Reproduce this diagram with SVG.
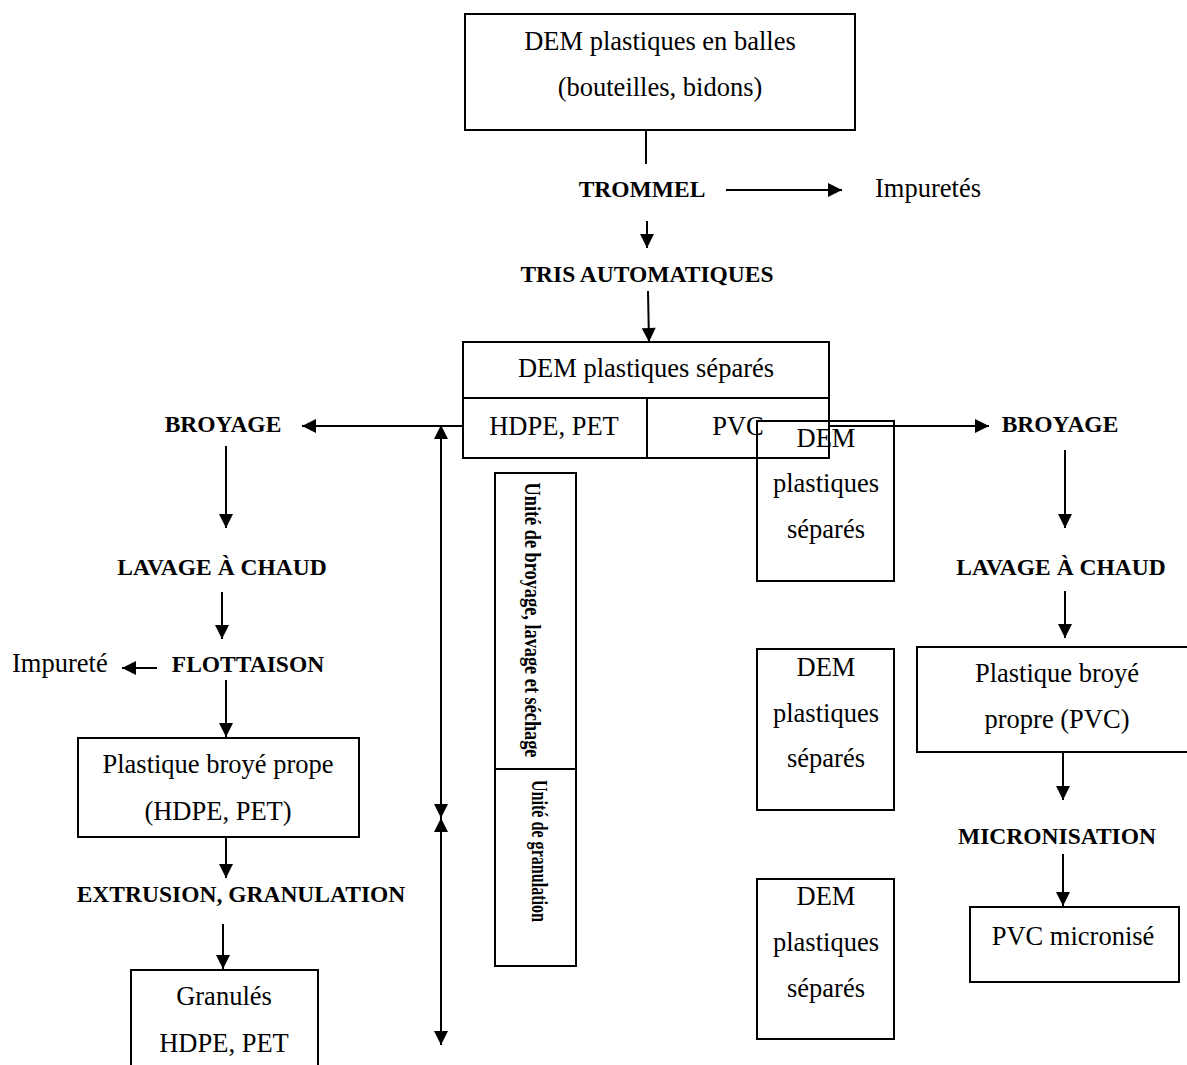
<svg xmlns="http://www.w3.org/2000/svg" width="1187" height="1065" viewBox="0 0 1187 1065">
<defs>
<marker id="ah" viewBox="0 0 10 10" refX="10" refY="5" markerUnits="userSpaceOnUse" markerWidth="15" markerHeight="14" orient="auto-start-reverse">
<path d="M0,0 L10,5 L0,10 z" fill="#000"/>
</marker>
<style>
.b{fill:#fff;stroke:#000;stroke-width:2}
.t{font-family:"Liberation Serif","Times New Roman",serif;font-size:26.5px;fill:#000;text-anchor:middle}
.s{font-family:"Liberation Serif","Times New Roman",serif;font-size:23.5px;font-weight:bold;fill:#000;text-anchor:middle}
.l{fill:none;stroke:#000;stroke-width:2}
.a{fill:none;stroke:#000;stroke-width:2;marker-end:url(#ah)}
.d{fill:none;stroke:#000;stroke-width:2;marker-start:url(#ah);marker-end:url(#ah)}
</style>
</defs>
<rect width="1187" height="1065" fill="#fff"/>

<g id="connectors">
<line class="l" x1="646" y1="130" x2="646" y2="164"/>
<line class="a" x1="726" y1="190" x2="842" y2="190"/>
<line class="a" x1="647" y1="221" x2="647" y2="248"/>
<line class="a" x1="648" y1="291" x2="649" y2="342"/>
<line class="a" x1="463" y1="426" x2="302" y2="426"/>
<line class="a" x1="829" y1="426" x2="989" y2="426"/>
<line class="a" x1="226" y1="446" x2="226" y2="528"/>
<line class="a" x1="222" y1="592" x2="222" y2="639"/>
<line class="a" x1="157" y1="668" x2="122" y2="668"/>
<line class="a" x1="226" y1="680" x2="226" y2="737"/>
<line class="a" x1="226" y1="837" x2="226" y2="878"/>
<line class="a" x1="223" y1="924" x2="223" y2="969"/>
<line class="d" x1="441" y1="425" x2="441" y2="818"/>
<line class="d" x1="441" y1="818" x2="441" y2="1045"/>
<line class="a" x1="1065" y1="450" x2="1065" y2="528"/>
<line class="a" x1="1065" y1="591" x2="1065" y2="638"/>
<line class="a" x1="1063" y1="752" x2="1063" y2="800"/>
<line class="a" x1="1063" y1="854" x2="1063" y2="906"/>
</g>

<g id="dem-balles">
<rect class="b" x="465" y="14" width="390" height="116"/>
<text class="t" x="660" y="50">DEM plastiques en balles</text>
<text class="t" x="660" y="96">(bouteilles, bidons)</text>
</g>
<g id="trommel"><text class="s" x="642" y="197">TROMMEL</text></g>
<g id="impuretes"><text class="t" x="875" y="197" style="text-anchor:start">Impuretés</text></g>
<g id="tris"><text class="s" x="647" y="282">TRIS AUTOMATIQUES</text></g>

<g id="dem-separes">
<rect class="b" x="463" y="342" width="366" height="116"/>
<line class="l" x1="463" y1="398" x2="829" y2="398"/>
<line class="l" x1="647" y1="398" x2="647" y2="458"/>
<text class="t" x="646" y="377">DEM plastiques séparés</text>
<text class="t" x="554" y="435">HDPE, PET</text>
<text class="t" x="738" y="435">PVC</text>
</g>

<g id="dem-box-1">
<rect x="757" y="421" width="137" height="160" fill="none" stroke="#000" stroke-width="2"/>
<text class="t" x="826" y="447">DEM</text>
<text class="t" x="826" y="492">plastiques</text>
<text class="t" x="826" y="538">séparés</text>
</g>
<g id="dem-box-2">
<rect class="b" x="757" y="649" width="137" height="161"/>
<text class="t" x="826" y="676">DEM</text>
<text class="t" x="826" y="722">plastiques</text>
<text class="t" x="826" y="767">séparés</text>
</g>
<g id="dem-box-3">
<rect class="b" x="757" y="879" width="137" height="160"/>
<text class="t" x="826" y="905">DEM</text>
<text class="t" x="826" y="951">plastiques</text>
<text class="t" x="826" y="997">séparés</text>
</g>

<g id="broyage-left"><text class="s" x="223" y="432">BROYAGE</text></g>
<g id="lavage-left"><text class="s" x="222" y="575">LAVAGE À CHAUD</text></g>
<g id="flottaison"><text class="s" x="248" y="672">FLOTTAISON</text></g>
<g id="impurete"><text class="t" x="12" y="672" style="text-anchor:start">Impureté</text></g>
<g id="broye-hdpe">
<rect class="b" x="78" y="738" width="281" height="99"/>
<text class="t" x="218" y="773">Plastique broyé prope</text>
<text class="t" x="218" y="820">(HDPE, PET)</text>
</g>
<g id="extrusion"><text class="s" x="241" y="902">EXTRUSION, GRANULATION</text></g>
<g id="granules">
<rect class="b" x="131" y="970" width="187" height="110"/>
<text class="t" x="224" y="1005">Granulés</text>
<text class="t" x="224" y="1052">HDPE, PET</text>
</g>

<g id="unites">
<rect class="b" x="495" y="473" width="81" height="296"/>
<rect class="b" x="495" y="769" width="81" height="197"/>
<text class="s" transform="translate(525,620) rotate(90)" textLength="275" lengthAdjust="spacingAndGlyphs">Unité de broyage, lavage et séchage</text>
<text class="s" transform="translate(532,851) rotate(90)" textLength="142" lengthAdjust="spacingAndGlyphs">Unité de granulation</text>
</g>

<g id="broyage-right"><text class="s" x="1060" y="432">BROYAGE</text></g>
<g id="lavage-right"><text class="s" x="1061" y="575">LAVAGE À CHAUD</text></g>
<g id="broye-pvc">
<rect class="b" x="917" y="647" width="290" height="105"/>
<text class="t" x="1057" y="682">Plastique broyé</text>
<text class="t" x="1057" y="728">propre (PVC)</text>
</g>
<g id="micronisation"><text class="s" x="1057" y="844">MICRONISATION</text></g>
<g id="pvc-micronise">
<rect class="b" x="970" y="907" width="209" height="75"/>
<text class="t" x="1073" y="945">PVC micronisé</text>
</g>
</svg>
